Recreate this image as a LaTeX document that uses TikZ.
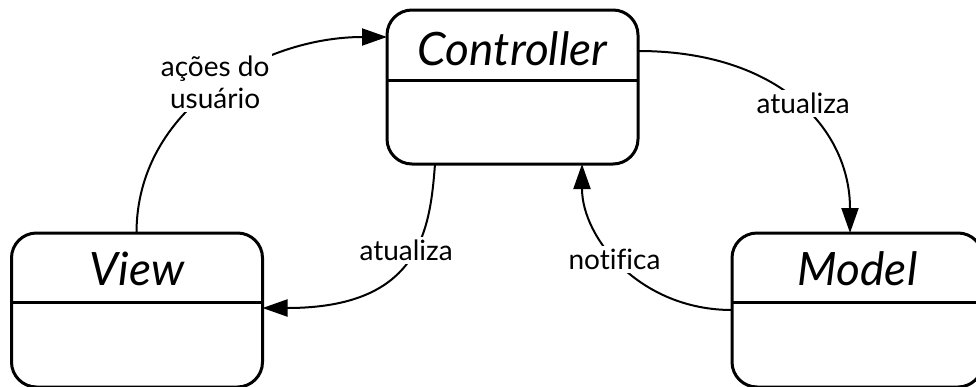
\documentclass[tikz,border=0pt]{standalone}
\usepackage{fontspec}
\setmainfont[Ligatures=NoCommon]{Lato}
\usetikzlibrary{arrows.meta,calc}

\tikzset{
  classbox/.style={draw, line width=3pt, rounded corners=25pt,
    minimum width=251pt, minimum height=154pt, inner sep=0pt, outer sep=0pt},
  classtitle/.style={anchor=base, inner sep=0pt,
    font=\fontsize{46}{50}\selectfont\itshape},
  divider/.style={line width=3pt},
  conn/.style={line width=2pt, -{Triangle[length=25pt,width=17pt]}},
  lbl/.style={fill=white, inner sep=3pt, align=center,
    font=\fontsize{28}{32}\selectfont}
}

\begin{document}
\begin{tikzpicture}[x=1pt,y=-1pt]
  \useasboundingbox (0,0) rectangle (976,386);

  % the three class boxes
  \node[classbox] (ctrl)  at (512.5,87) {};
  \node[classbox] (view)  at (137,310) {};
  \node[classbox] (model) at (857.5,310) {};

  % header dividers
  \draw[divider] ($(ctrl.north west)+(0,70)$)  -- ($(ctrl.north east)+(0,70)$);
  \draw[divider] ($(view.north west)+(0,69)$)  -- ($(view.north east)+(0,69)$);
  \draw[divider] ($(model.north west)+(0,69)$) -- ($(model.north east)+(0,69)$);

  % class names
  \node[classtitle] (ctrlname)  at ($(ctrl.north)+(0,55)$)  {Controller};
  \node[classtitle] (viewname)  at ($(view.north)+(0,52)$)  {View};
  \node[classtitle] (modelname) at ($(model.north)+(0,52)$) {Model};

  % view -> controller
  \draw[conn] ($(view.north west)+(125,0)$) to[out=90,in=180]
    node[lbl, yshift=6pt] {ações do\\usuário} ($(ctrl.north west)+(0,27)$);

  % controller -> model
  \draw[conn] ($(ctrl.north east)+(0,41)$) .. controls +(142,0) and +(0,-103) ..
    node[lbl, xshift=6pt] {atualiza} ($(model.north west)+(118,0)$);

  % controller -> view
  \draw[conn] ($(ctrl.south west)+(48,0)$) .. controls +(-5,66) and +(158,0) ..
    node[lbl, yshift=10pt] {atualiza} ($(view.north east)+(0,75)$);

  % model -> controller
  \draw[conn] ($(model.north west)+(0,77)$) .. controls +(-92,0) and +(0,74) ..
    node[lbl, xshift=-8pt, yshift=5pt] {notifica} ($(ctrl.south west)+(195,0)$);
\end{tikzpicture}
\end{document}
